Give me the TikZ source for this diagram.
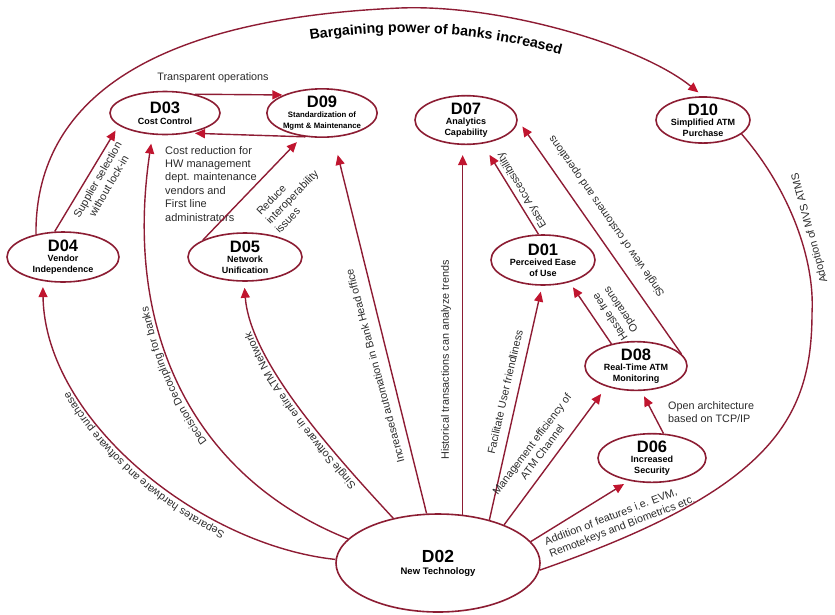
\documentclass[tikz,border=0pt]{standalone}
\usepackage{fontspec}
\setmainfont{Liberation Sans}
\usetikzlibrary{shapes.geometric,arrows.meta,decorations.text}
\definecolor{nodered}{HTML}{8C1D33}
\definecolor{edgered}{HTML}{8E1C34}
\definecolor{tipred}{HTML}{C0152F}
\definecolor{txt}{HTML}{2B2B2B}
\newcommand\ttl[1]{{\fontsize{16.5}{17}\selectfont\bfseries #1}}
\newcommand\sbt[1]{{\fontsize{9}{10}\selectfont\bfseries #1}}
\newcommand\labfont{\fontsize{10.8}{13}\selectfont}
\begin{document}
\begin{tikzpicture}[x=1pt,y=-1pt,
  nd/.style={ellipse, draw=nodered, line width=1.6pt, inner sep=0pt, align=center, fill=white, text=black},
  arr/.style={draw=edgered, line width=1.4pt, -{Triangle[length=10pt,width=9pt,color=tipred]}, shorten >=6pt},
  con/.style={draw=edgered, line width=1.4pt},
  lab/.style={text=txt, font=\labfont, inner sep=0pt},
  curvlab/.style={postaction={decorate, decoration={text along path, text align=center, raise=#1}}}
]
\useasboundingbox (0,0) rectangle (835,614);

% nodes
\node[nd, minimum width=110pt, minimum height=43pt] (D03) at (165,113) {\ttl{D03}\\[-1pt]\sbt{Cost Control}};
\node[nd, minimum width=100pt, minimum height=40pt] (D09) at (322,113) {\ttl{D09}\\[-2pt]{\fontsize{7.8}{8.5}\selectfont\bfseries Standardization of}\\[-1pt]{\fontsize{7.8}{8.5}\selectfont\bfseries Mgmt \& Maintenance}};
\node[nd, minimum width=102pt, minimum height=44pt] (D07) at (466,120) {\ttl{D07}\\[-2pt]\sbt{Analytics}\\[-1pt]\sbt{Capability}};
\node[nd, minimum width=94pt, minimum height=46pt] (D10) at (703,120) {\ttl{D10}\\[-2pt]\sbt{Simplified ATM}\\[-1pt]\sbt{Purchase}};
\node[nd, minimum width=112pt, minimum height=50pt] (D04) at (63,257) {\ttl{D04}\\[-2pt]\sbt{Vendor}\\[-1pt]\sbt{Independence}};
\node[nd, minimum width=114pt, minimum height=48pt] (D05) at (245,257) {\ttl{D05}\\[-2pt]\sbt{Network}\\[-1pt]\sbt{Unification}};
\node[nd, minimum width=104pt, minimum height=50pt] (D01) at (543,260) {\ttl{D01}\\[-2pt]\sbt{Perceived Ease}\\[-1pt]\sbt{of Use}};
\node[nd, minimum width=102pt, minimum height=48pt] (D08) at (636,366) {\ttl{D08}\\[-2pt]\sbt{Real-Time ATM}\\[-1pt]\sbt{Monitoring}};
\node[nd, minimum width=108pt, minimum height=48pt] (D06) at (652,458) {\ttl{D06}\\[-2pt]\sbt{Increased}\\[-1pt]\sbt{Security}};
\node[nd, minimum width=204pt, minimum height=98pt] (D02) at (438,563) {{\fontsize{17.5}{18}\selectfont\bfseries D02}\\[0pt]{\fontsize{9.5}{10}\selectfont\bfseries New Technology}};

% bargaining power arc
\draw[arr] (D04.140) .. controls (35,120) and (120,20) .. (400,8) .. controls (500,4) and (640,45) .. (D10.north);
\path[decorate, decoration={text along path, text align=center,
  text={|\color{black}\fontsize{14.2}{16}\selectfont\bfseries|Bargaining power of banks increased}}]
  (275,46) .. controls (370,27) and (470,25) .. (595,64);

% top connectors
\draw[arr, shorten >=1pt] (D03.32) -- (D09.155);
\node[lab] (Ltr) at (213,78) {Transparent operations};
\draw[arr] (D09.235) -- (D03.-40);
\node[lab, anchor=north west, align=left, font=\fontsize{11}{13.4}\selectfont] (Lcost) at (165,146)
  {Cost reduction for\\HW management\\dept. maintenance\\vendors and\\First line\\administrators};

\draw[arr] (D04.108) -- (D03.195);
\node[lab, rotate=60, align=center] (Lsup) at (103,183) {Supplier selection\\without lock-in};

\draw[arr, shorten >=8pt] (D05.158) -- (D09.-130);
\node[lab, rotate=46, align=left] (Lred) at (292,197) {Reduce\\interoperability\\issues};

% curved connectors from D02
\draw[arr, curvlab=6pt, decoration={text={|\color{txt}\labfont|Separates hardware and software purchase}}]
  (D02.178) .. controls (200,545) and (45,420) .. (D04.230);
\draw[arr, shorten >=9pt, curvlab=6pt, decoration={text={|\color{txt}\labfont|Decision Decoupling for banks}}]
  (D02.165) .. controls (200,480) and (122,340) .. (D03.240);
\draw[arr, curvlab=5pt, decoration={text={|\color{txt}\labfont|Single Software in entire ATM Network}}]
  (D02.135) .. controls (330,450) and (250,360) .. (D05.268);

% straight connectors from D02
\draw[arr, shorten >=18pt] (D02.103) -- (D09.-65);
\node[lab, rotate=105] (Linc) at (375,366) {Increased automation in Bank Head office};
\draw[arr, shorten >=10pt] (D02.63) -- (D02.63 |- D07.south);
\node[lab, rotate=90] (Lhis) at (446,360) {Historical transactions can analyze trends};
\draw[arr] (D02.40) -- (D01.268);
\node[lab, rotate=77] (Lfac) at (505,392) {Facilitate User friendliness};
\draw[arr, shorten >=9pt] (D02.30) -- (D08.-145);
\node[lab, rotate=53, align=center] (Lmgmt) at (537,448) {Management efficiency of\\ATM Channel};
\draw[arr] (D02.13) -- (D06.-135);
\node[lab, rotate=21, align=left] (Ladd) at (620,521) {Addition of features i.e. EVM,\\Remotekeys and Biometrics etc.};

% right side
\draw[arr] (D06.65) -- (D08.-78);
\node[lab, anchor=west, align=left] (Lopen) at (668,412) {Open architecture\\based on TCP/IP};
\draw[arr] (D08.138) -- (D01.-40);
\node[lab, rotate=123.7, align=center] (Lhas) at (616,313) {Hassle free\\Operations};
\draw[arr, shorten >=8pt] (D08.15) -- (D07.0);
\node[lab, rotate=124.9] (Lsv) at (607,216) {Single view of customers and operations};
\draw[arr, shorten >=13pt] (D01.100) -- (D07.-55);
\node[lab, rotate=121] (Leasy) at (522,190) {Easy Accessibility};

\draw[con] (D10.-20) .. controls (790,190) and (815,260) .. (812,313) .. controls (812,420) and (770,490) .. (D02.-4);
\node[lab, rotate=105] (Lado) at (810,228) {Adoption of MVS ATMS};
\end{tikzpicture}
\end{document}
